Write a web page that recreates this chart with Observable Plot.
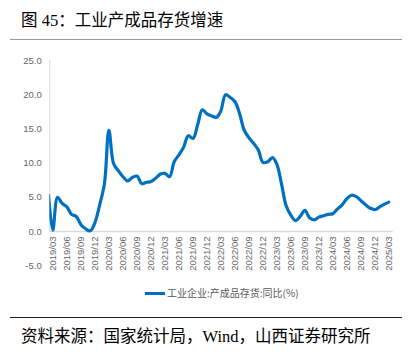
<!DOCTYPE html>
<html><head><meta charset="utf-8">
<script src="https://cdn.jsdelivr.net/npm/d3@7"></script>
<script src="https://cdn.jsdelivr.net/npm/@observablehq/plot@0.6"></script>
<style>
body{margin:0;background:#fff;}
#wrap{position:relative;width:413px;height:357px;overflow:hidden;background:#fff;}
.cn{font-family:"Liberation Serif","Noto Sans CJK SC",serif;color:#000;white-space:nowrap;position:absolute;}
#title{left:21px;top:13px;font-size:16.5px;line-height:16.5px;}
#rule1{position:absolute;left:10px;top:38.5px;width:392px;height:1.5px;background:#9a9a9a;}
#chart{position:absolute;left:0;top:0;}
#legline{position:absolute;left:145px;top:291.5px;width:20px;height:3px;background:#0070c0;}
#legtext{position:absolute;left:167px;top:286px;font-family:"Noto Sans CJK SC",sans-serif;font-size:10px;line-height:14px;color:#595959;white-space:nowrap;}
#rule2{position:absolute;left:10px;top:316.5px;width:392px;height:1.2px;background:#222;}
#caption{left:21px;top:328.5px;font-size:16.5px;line-height:16.5px;}
</style>
</head><body>
<div id="wrap">
  <div id="title" class="cn">图 45：工业产成品存货增速</div>
  <div id="rule1"></div>
  <div id="chart"></div>
  <div id="legline"></div>
  <div id="legtext">工业企业:产成品存货:同比(%)</div>
  <div id="rule2"></div>
  <div id="caption" class="cn">资料来源：国家统计局，Wind，山西证券研究所</div>
</div>
<script>
const months = [
 "2019/02","2019/03","2019/04","2019/05","2019/06","2019/07","2019/08","2019/09","2019/10","2019/11","2019/12",
 "2020/01","2020/02","2020/03","2020/04","2020/05","2020/06","2020/07","2020/08","2020/09","2020/10","2020/11","2020/12",
 "2021/01","2021/02","2021/03","2021/04","2021/05","2021/06","2021/07","2021/08","2021/09","2021/10","2021/11","2021/12",
 "2022/01","2022/02","2022/03","2022/04","2022/05","2022/06","2022/07","2022/08","2022/09","2022/10","2022/11","2022/12",
 "2023/01","2023/02","2023/03","2023/04","2023/05","2023/06","2023/07","2023/08","2023/09","2023/10","2023/11","2023/12",
 "2024/01","2024/02","2024/03","2024/04","2024/05","2024/06","2024/07","2024/08","2024/09","2024/10","2024/11","2024/12",
 "2025/01","2025/02","2025/03"
];
const values = [
 5.3, 0.2, 5.0, 4.1, 3.6, 2.5, 2.2, 1.0, 0.4, 0.1, 1.3,
 3.9, 7.0, 14.8, 9.9, 8.9, 8.0, 7.4, 7.9, 8.1, 7.0, 7.2, 7.3,
 7.8, 8.4, 8.5, 8.0, 10.2, 11.2, 12.3, 14.0, 13.6, 15.6, 17.8, 17.2,
 16.9, 16.7, 17.6, 20.0, 19.6, 19.0, 17.3, 14.8, 13.7, 12.9, 11.9, 10.1,
 10.2, 10.8, 9.9, 7.0, 3.8, 2.4, 1.6, 2.2, 3.1, 2.0, 1.7, 2.1,
 2.3, 2.5, 2.6, 3.3, 3.9, 4.8, 5.3, 5.1, 4.5, 3.9, 3.4, 3.2,
 3.6, 4.0, 4.3
];
const tickLabels = [
 "2019/03","2019/06","2019/09","2019/12","2020/03","2020/06","2020/09","2020/12",
 "2021/03","2021/06","2021/09","2021/12","2022/03","2022/06","2022/09","2022/12",
 "2023/03","2023/06","2023/09","2023/12","2024/03","2024/06","2024/09","2024/12","2025/03"
];
const yTicks = [-5, 0, 5, 10, 15, 20, 25];

const parse = s => { const [y, m] = s.split("/").map(Number); return new Date(Date.UTC(y, m - 1, 1)); };
const data = months.map((m, i) => ({date: parse(m), value: values[i]}));
const xmin = new Date(Date.UTC(2019, 1, 9, 12));
const xmax = new Date(Date.UTC(2025, 2, 30));
const H = 300;

const chart = Plot.plot({
  width: 413, height: H,
  marginLeft: 49.3, marginRight: 20.3, marginTop: 60, marginBottom: H - 265.2,
  x: {type: "utc", domain: [xmin, xmax], axis: null},
  y: {domain: [-5, 25], axis: null},
  style: {fontFamily: "'Liberation Sans', Arial, sans-serif", background: "transparent", overflow: "visible"},
  marks: [
    Plot.ruleX([xmin], {y1: 0, y2: 25, stroke: "#d9d9d9", strokeWidth: 1}),
    Plot.ruleY([0], {x1: xmin, x2: xmax, stroke: "#d9d9d9", strokeWidth: 1.3}),
    Plot.text(yTicks, {x: () => xmin, y: d => d, text: d => d.toFixed(1), textAnchor: "end", dx: -8, fontSize: 9.5, fill: "#666"}),
    Plot.text(tickLabels.map(s => ({date: parse(s), label: s})), {x: "date", y: () => 0, text: "label", rotate: -90, textAnchor: "end", dy: 5, fontSize: 9.5, fill: "#666"}),
    Plot.line(data, {x: "date", y: "value", stroke: "#0070c0", strokeWidth: 3.2, curve: "catmull-rom", clip: true})
  ]
});
document.getElementById("chart").appendChild(chart);
</script>
</body></html>
